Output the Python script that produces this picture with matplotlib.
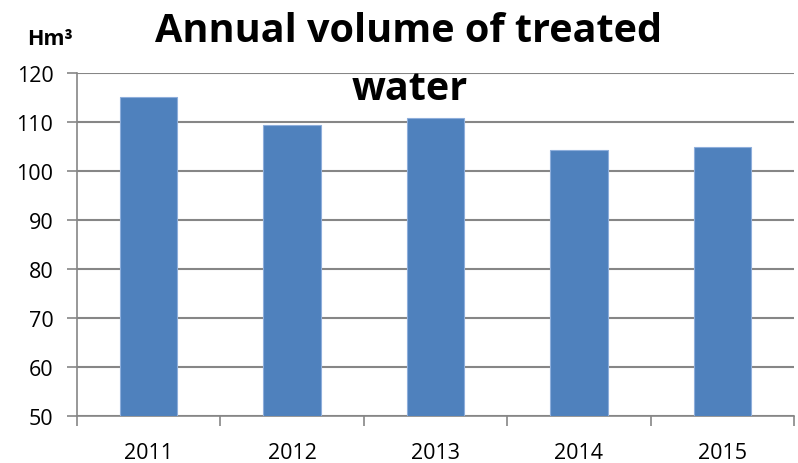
import matplotlib
matplotlib.use("Agg")
import matplotlib.pyplot as plt
import numpy as np

years = ["2011", "2012", "2013", "2014", "2015"]
volumes = [115.2, 109.4, 110.9, 104.2, 105.0]
yticks = [50, 60, 70, 80, 90, 100, 110, 120]

plt.rcParams['font.family'] = ['Open Sans', 'DejaVu Sans']

fig = plt.figure(figsize=(7.98, 4.64), dpi=100)
ax = fig.add_axes([77/798, 1 - 417/464, (794-77)/798, (417-74)/464])

x = np.arange(len(years))
ax.bar(x, volumes, width=0.4, color='#4F81BD', edgecolor='#8EAEDB', linewidth=0.8, zorder=3)

ax.set_xlim(-0.5, len(years) - 0.5)
ax.set_ylim(50, 120)
ax.set_yticks(yticks)
ax.set_yticklabels([str(v) for v in yticks], fontsize=15.5)
ax.yaxis.grid(True, color='#868686', linewidth=1.5, zorder=0)
ax.set_axisbelow(True)

ax.set_xticks(np.arange(len(years) + 1) - 0.5)
ax.set_xticklabels([])
ax.set_xticks(x, minor=True)
ax.set_xticklabels(years, minor=True, fontsize=15.5)
ax.tick_params(axis='x', which='minor', length=0, pad=19)
ax.tick_params(axis='x', which='major', length=7, color='#868686', width=1.2, direction='out')
ax.tick_params(axis='y', length=7, color='#868686', width=1.2, pad=10)

for s in ['top', 'right']:
    ax.spines[s].set_visible(False)
for s in ['left', 'bottom']:
    ax.spines[s].set_color('#868686')
    ax.spines[s].set_linewidth(1.2)

fig.text(409/798, 1 - 42/464, "Annual volume of treated", ha='center', va='baseline',
         fontsize=28.5, fontweight='bold')
fig.text(410/798, 1 - 100/464, "water", ha='center', va='baseline',
         fontsize=28.5, fontweight='bold')
fig.text(27/798, 1 - 45/464, "Hm³", ha='left', va='baseline', fontsize=15.5, fontweight='bold')

fig.savefig("out.png", dpi=100)
